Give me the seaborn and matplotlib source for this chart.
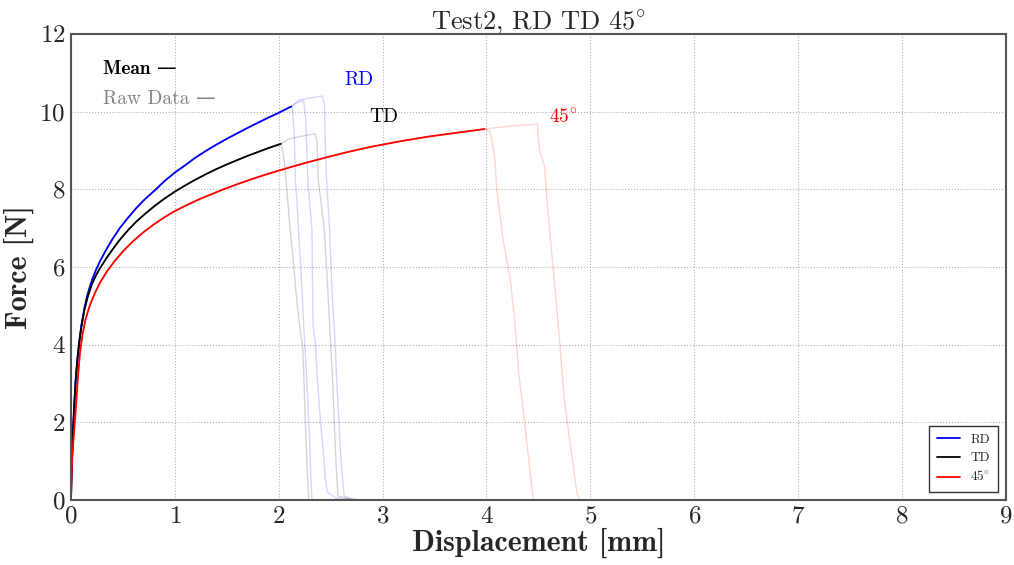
"""
Force-displacement curves for Test2 (RD, TD, 45 deg), mean and raw data.
"""

import numpy as np
import pandas as pd
import matplotlib
matplotlib.use('Agg')
import matplotlib.pyplot as plt
import seaborn as sns

# Mean curves (displacement [mm], force [N])
rd_x = [0, 0.005, 0.01, 0.02, 0.03, 0.045, 0.06, 0.08, 0.1, 0.13, 0.16, 0.2, 0.24, 0.28, 0.34,
        0.4, 0.47, 0.55, 0.63, 0.71, 0.81, 0.9, 1.0, 1.1, 1.19, 1.3, 1.4, 1.5, 1.6, 1.7,
        1.82, 1.92, 2.0, 2.06, 2.12]
rd_y = [0, 0.6, 1.1, 1.8, 2.4, 3.1, 3.6, 4.1, 4.5, 4.95, 5.3, 5.65, 5.92, 6.15, 6.45,
        6.72, 7.0, 7.27, 7.52, 7.74, 7.98, 8.21, 8.43, 8.62, 8.8, 8.99, 9.15, 9.3, 9.44, 9.58,
        9.74, 9.87, 9.97, 10.05, 10.13]

td_x = [0, 0.005, 0.01, 0.02, 0.03, 0.045, 0.06, 0.08, 0.1, 0.13, 0.16, 0.2, 0.24, 0.28, 0.34,
        0.4, 0.47, 0.55, 0.63, 0.71, 0.8, 0.9, 1.0, 1.1, 1.2, 1.3, 1.4, 1.5, 1.6, 1.7,
        1.8, 1.9, 2.02]
td_y = [0, 0.6, 1.1, 1.8, 2.35, 3.05, 3.55, 4.05, 4.45, 4.9, 5.22, 5.55, 5.78, 5.97, 6.22,
        6.45, 6.7, 6.95, 7.17, 7.36, 7.56, 7.76, 7.94, 8.1, 8.25, 8.39, 8.52, 8.64, 8.75, 8.86,
        8.96, 9.06, 9.17]

d45_x = [0, 0.005, 0.012, 0.025, 0.038, 0.05, 0.065, 0.087, 0.11, 0.14, 0.18, 0.23, 0.28, 0.35,
         0.42, 0.5, 0.6, 0.7, 0.8, 0.9, 1.0, 1.12, 1.24, 1.35, 1.45, 1.6, 1.75, 1.9, 2.0,
         2.14, 2.3, 2.5, 2.65, 2.78, 2.9, 3.0, 3.2, 3.45, 3.7, 3.98]
d45_y = [0, 0.55, 1.05, 1.6, 2.05, 2.5, 3.1, 3.8, 4.25, 4.65, 5.0, 5.33, 5.6, 5.9,
         6.15, 6.4, 6.67, 6.9, 7.1, 7.28, 7.44, 7.6, 7.75, 7.87, 7.98, 8.13, 8.27, 8.4, 8.48,
         8.59, 8.71, 8.85, 8.95, 9.03, 9.1, 9.15, 9.25, 9.36, 9.45, 9.55]

# Raw data, part after the mean curve ends
rd_raw_tails = [
    ([2.13, 2.15, 2.16, 2.18, 2.19, 2.22, 2.24, 2.26, 2.28, 2.3, 2.31, 2.32, 2.42],
     [10.1, 9.4, 8.24, 7.5, 6.95, 5.6, 4.5, 3.6, 2.5, 1.4, 0.5, 0.0, 0.0]),
    ([2.17, 2.22, 2.24, 2.26, 2.28, 2.3, 2.32, 2.33, 2.35, 2.36, 2.39, 2.42, 2.45, 2.47, 2.55, 2.78],
     [10.22, 10.27, 10.28, 9.8, 8.24, 7.6, 6.95, 4.5, 4.1, 3.6, 2.4, 1.5, 0.5, 0.2, 0.05, 0.0]),
    ([2.2, 2.3, 2.42, 2.44, 2.45, 2.46, 2.49, 2.5, 2.52, 2.54, 2.56, 2.58, 2.6, 2.63, 2.7, 2.8],
     [10.3, 10.35, 10.4, 10.2, 9.0, 8.24, 6.95, 6.2, 5.0, 4.2, 3.0, 2.0, 1.0, 0.1, 0.03, 0.0]),
]
td_raw_tails = [
    ([2.03, 2.05, 2.07, 2.09, 2.11, 2.14, 2.16, 2.2, 2.23, 2.24, 2.25, 2.27, 2.29],
     [9.1, 8.8, 8.24, 7.6, 6.95, 6.2, 5.5, 4.5, 3.95, 3.3, 2.5, 1.0, 0.0]),
    ([2.1, 2.25, 2.35, 2.37, 2.38, 2.41, 2.44, 2.46, 2.48, 2.5, 2.52, 2.55, 2.57, 2.65, 2.75],
     [9.3, 9.38, 9.43, 9.2, 8.24, 7.6, 6.95, 6.0, 5.0, 4.0, 3.0, 1.0, 0.1, 0.05, 0.0]),
]
d45_raw_tails = [
    ([4.03, 4.05, 4.08, 4.1, 4.16, 4.2, 4.23, 4.27, 4.29, 4.31, 4.35, 4.4, 4.43, 4.45, 4.59],
     [9.5, 9.3, 8.8, 7.98, 6.7, 6.1, 5.67, 4.64, 4.0, 3.26, 2.4, 1.2, 0.5, 0.0, 0.0]),
    ([4.2, 4.49, 4.51, 4.56, 4.58, 4.61, 4.64, 4.67, 4.7, 4.75, 4.8, 4.84, 4.87, 4.9, 5.15],
     [9.62, 9.68, 9.01, 8.58, 7.8, 6.87, 6.0, 5.15, 4.2, 2.58, 1.55, 0.8, 0.17, 0.0, 0.0]),
]

deg45 = r'$\mathrm{45^{\circ}}$'
groups = [
    ('RD', rd_x, rd_y, rd_raw_tails, 'blue'),
    ('TD', td_x, td_y, td_raw_tails, 'black'),
    (deg45, d45_x, d45_y, d45_raw_tails, 'red'),
]

sns.set_style('whitegrid', {'grid.linestyle': ':', 'grid.color': '#b0b0b0',
                            'axes.edgecolor': '#555555'})
plt.rcParams.update({
    'font.family': ['cmr10', 'DejaVu Serif'],
    'mathtext.fontset': 'cm',
    'axes.formatter.use_mathtext': True,
    'axes.unicode_minus': False,
})

fig = plt.figure(figsize=(10.14, 5.65), dpi=100)
ax = fig.add_axes([0.070, 0.115, 0.922, 0.825])

for name, mx, my, tails, color in groups:
    # raw curves share the rising part of the mean, then fail
    for tx, ty in tails:
        df = pd.DataFrame({'x': list(mx) + tx, 'y': list(my) + ty})
        sns.lineplot(data=df, x='x', y='y', sort=False, estimator=None,
                     color=color, alpha=0.17, linewidth=1.0, ax=ax)
for name, mx, my, tails, color in groups:
    df = pd.DataFrame({'x': mx, 'y': my})
    sns.lineplot(data=df, x='x', y='y', sort=False, estimator=None,
                 color=color, linewidth=1.3, ax=ax, label=name)

ax.set_xlim(0, 9)
ax.set_ylim(0, 12)
ax.set_xticks(np.arange(0, 10, 1))
ax.set_yticks(np.arange(0, 13, 2))
ax.tick_params(labelsize=18, length=0, pad=4)
for s in ax.spines.values():
    s.set_linewidth(1.5)

ax.set_xlabel('Displacement [mm]', fontsize=21.5, family='cmb10', labelpad=0)
ax.set_ylabel('Force [N]', fontsize=21.5, family='cmb10', labelpad=4)
ax.set_title('Test2, RD TD ' + deg45, fontsize=19, pad=4)

# annotations
ax.text(0.31, 11.1, 'Mean \u2014', fontsize=14, color='black', va='center', family=['cmb10', 'DejaVu Sans'])
ax.text(0.31, 10.32, 'Raw Data \u2014', fontsize=14, color='gray', va='center', family=['cmr10', 'DejaVu Sans'])
ax.text(2.63, 10.8, 'RD', fontsize=14, color='blue', va='center')
ax.text(2.87, 9.86, 'TD', fontsize=14, color='black', va='center')
ax.text(4.6, 9.86, deg45, fontsize=14, color='red', va='center')

leg = ax.legend(loc='lower right', fontsize=9.5, frameon=True, fancybox=False,
                handlelength=1.7, borderpad=0.6, labelspacing=0.45, borderaxespad=0.6)
leg.get_frame().set_edgecolor('black')
leg.get_frame().set_linewidth(1.0)

fig.savefig('out.png', dpi=100)
